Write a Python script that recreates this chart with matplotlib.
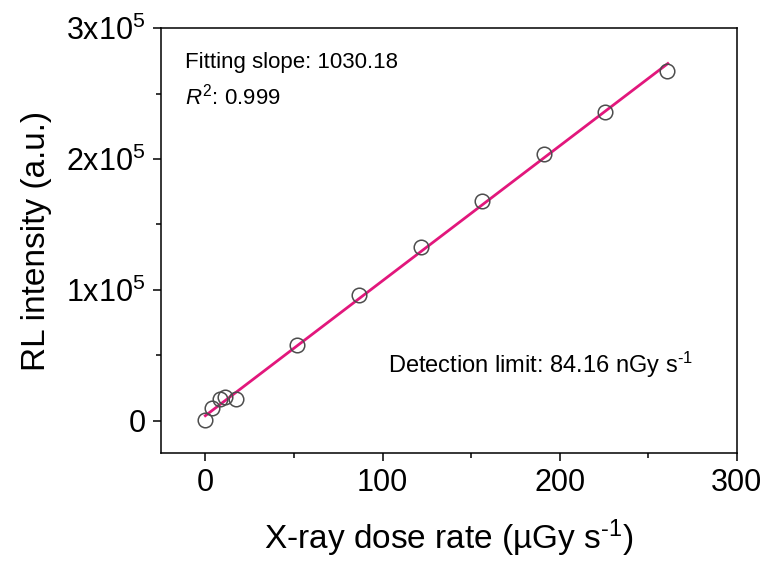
import numpy as np
import matplotlib
matplotlib.use("Agg")
import matplotlib.pyplot as plt
from matplotlib.ticker import FixedLocator, MultipleLocator

plt.rcParams["font.family"] = ["Liberation Sans", "DejaVu Sans"]
plt.rcParams["mathtext.fontset"] = "custom"
plt.rcParams["mathtext.rm"] = "Liberation Sans"
plt.rcParams["mathtext.it"] = "Liberation Sans:italic"

# dose rate (uGy/s) and RL intensity (a.u.)
dose_rate = [0, 3.7, 8.2, 11, 17.2, 51.7, 86.5, 121.8, 156.3, 191.2, 225.8, 260.6]
rl_intensity = [1000, 9900, 17000, 18300, 16800, 58000, 96500, 132800, 167900, 203800, 236000, 267500]

fit_slope = 1030.18
fit_intercept = 4000
fit_range = [0, 261]

y_ticks = [0, 1e5, 2e5, 3e5]
y_tick_labels = ["0", r"1x10$^5$", r"2x10$^5$", r"3x10$^5$"]
x_ticks = [0, 100, 200, 300]

fig = plt.figure(figsize=(7.79, 5.72), dpi=100)
ax = fig.add_axes([0.2067, 0.208, 0.7393, 0.743])

fx = np.array(fit_range)
ax.plot(fx, fit_slope * fx + fit_intercept, c="#E2177C", lw=2.0, zorder=2)

ax.plot(dose_rate, rl_intensity, ls="none", marker="o", ms=10.5,
        mfc="none", mec="#4d4d4d", mew=1.1, zorder=3)

ax.set_xlim(-25, 300)
ax.set_ylim(-24500, 300000)

ax.xaxis.set_major_locator(FixedLocator(x_ticks))
ax.xaxis.set_minor_locator(MultipleLocator(50))
ax.yaxis.set_major_locator(FixedLocator(y_ticks))
ax.yaxis.set_minor_locator(MultipleLocator(50000))
ax.set_yticklabels(y_tick_labels)

ax.tick_params(which="major", direction="out", length=6, width=1.1,
               labelsize=22, pad=5, top=False, right=False)
ax.tick_params(which="minor", direction="out", length=3.5, width=1.1,
               top=False, right=False)
for s in ax.spines.values():
    s.set_linewidth(1.1)

ax.set_xlabel("X-ray dose rate (\u00b5Gy s$^{\\text{-1}}$)", fontsize=24, labelpad=14)
ax.set_ylabel("RL intensity (a.u.)", fontsize=24, labelpad=10)

ax.text(-11.5, 274000, "Fitting slope: 1030.18", fontsize=16, va="center", ha="left")
ax.text(-11.5, 247300, r"$R^2$: 0.999", fontsize=16, va="center", ha="left")
ax.text(275, 42700, "Detection limit: 84.16 nGy s$^{\\text{-1}}$", fontsize=17,
        va="center", ha="right")

fig.savefig("out.png", dpi=100)
